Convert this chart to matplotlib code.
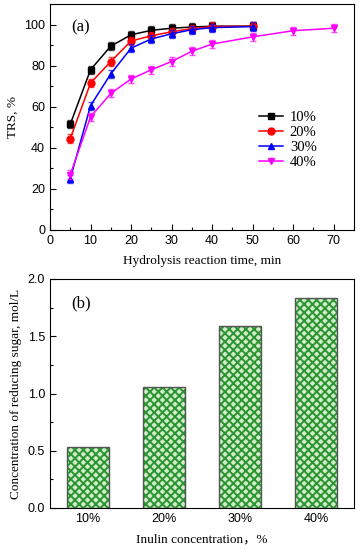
import matplotlib.pyplot as plt
import matplotlib as mpl
from matplotlib.ticker import MultipleLocator

# 数据
t_10 = [5, 10, 15, 20, 25, 30, 35, 40, 50]
trs_10 = [51.5, 78, 89.5, 95, 97.2, 98.2, 98.8, 99.2, 99.2]
trs_20 = [44.5, 71.5, 82, 92, 94.5, 96.5, 98, 99, 99.2]
trs_30 = [25, 60.5, 76, 88.5, 93, 95.5, 97.5, 98.5, 99]
t_40 = [5, 10, 15, 20, 25, 30, 35, 40, 50, 60, 70]
trs_40 = [27, 55, 66.5, 73.5, 78, 82, 87, 90.5, 94, 97, 98.2]
err = 2.0

conc_labels = ['10%', '20%', '30%', '40%']
sugar = [0.53, 1.06, 1.59, 1.83]

mpl.rcParams['hatch.linewidth'] = 1.4
mpl.rcParams['xtick.direction'] = 'in'
mpl.rcParams['ytick.direction'] = 'in'

fig = plt.figure(figsize=(3.64, 5.5), dpi=100)
serif = 'Liberation Serif'
sans = 'Liberation Sans'

# (a)
ax1 = fig.add_axes([50/364, 1-230/550, 304/364, 226/550])
series = [(t_10, trs_10, 'black', 's', '10%'),
          (t_10, trs_20, 'red', 'o', '20%'),
          (t_10, trs_30, 'blue', '^', '30%'),
          (t_40, trs_40, 'magenta', 'v', '40%')]
for x, y, c, m, lab in series:
    ax1.errorbar(x, y, yerr=err, fmt='none', ecolor=c, capsize=2, elinewidth=0.8, alpha=0.7)
    ax1.plot(x, y, color=c, marker=m, markersize=5, lw=1.1, label=lab)
ax1.set_xlim(0, 75)
ax1.set_ylim(0, 110)
ax1.xaxis.set_major_locator(MultipleLocator(10))
ax1.xaxis.set_minor_locator(MultipleLocator(5))
ax1.set_yticks([0, 20, 40, 60, 80, 100])
ax1.yaxis.set_minor_locator(MultipleLocator(10))
ax1.tick_params(which='major', length=4, width=0.8, labelsize=9)
ax1.tick_params(which='minor', length=2.5, width=0.8)
for lbl in ax1.get_xticklabels() + ax1.get_yticklabels():
    lbl.set_fontfamily(sans)
ax1.set_xlabel('Hydrolysis reaction time, min', fontsize=9.5, family=serif, labelpad=6)
ax1.set_ylabel('TRS, %', fontsize=9.5, family=serif)
ax1.text(0.07, 0.93, '(a)', transform=ax1.transAxes, fontsize=12, family=serif, va='top')
leg = ax1.legend(loc='center left', bbox_to_anchor=(0.645, 0.40), frameon=False,
                 prop={'family': serif, 'size': 10.5}, handlelength=1.6,
                 labelspacing=0.12, handletextpad=0.5)

# (b)
ax2 = fig.add_axes([50/364, 1-508/550, 304/364, 229/550])
xs = range(len(conc_labels))
ax2.bar(xs, sugar, width=0.54, color='#d0ecca', edgecolor='#2a9430', hatch='xxxx', lw=0)
ax2.bar(xs, sugar, width=0.54, color='none', edgecolor='#555555', lw=1.0)
ax2.set_xlim(-0.5, 3.5)
ax2.set_ylim(0, 2.0)
ax2.set_xticks(list(xs))
ax2.set_xticklabels(conc_labels)
ax2.yaxis.set_major_locator(MultipleLocator(0.5))
ax2.yaxis.set_minor_locator(MultipleLocator(0.25))
ax2.tick_params(axis='x', length=0)
ax2.tick_params(axis='y', which='major', length=4, width=0.8)
ax2.tick_params(axis='y', which='minor', length=2.5, width=0.8)
ax2.tick_params(labelsize=9)
for lbl in ax2.get_xticklabels() + ax2.get_yticklabels():
    lbl.set_fontfamily(sans)
ax2.set_xlabel('Inulin concentration，%', fontsize=9.5,
               family=[serif, 'Noto Sans CJK SC'], labelpad=6)
ax2.set_ylabel('Concentration of reducing sugar, mol/L', fontsize=9.5, family=serif)
ax2.text(0.07, 0.93, '(b)', transform=ax2.transAxes, fontsize=12, family=serif, va='top')

plt.savefig('out.png', dpi=100)
